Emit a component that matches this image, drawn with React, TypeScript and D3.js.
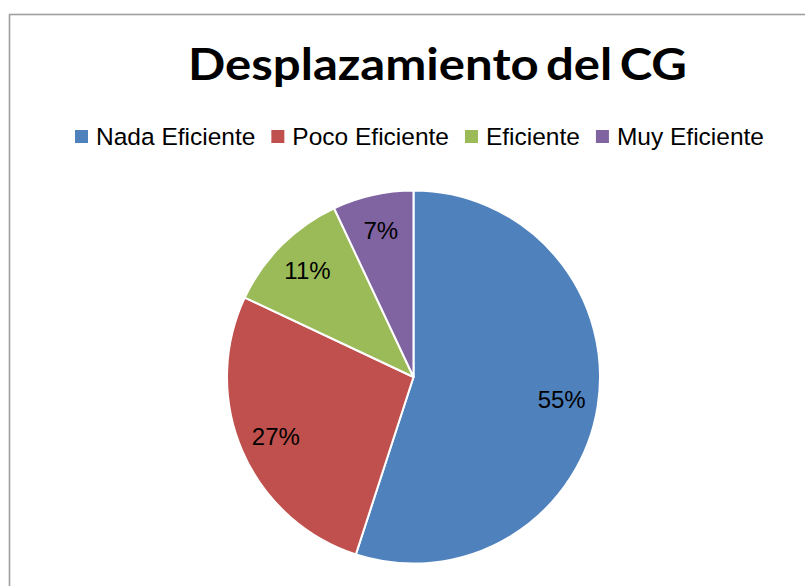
import React from "react";
import * as d3 from "d3";

const categories = ["Nada Eficiente", "Poco Eficiente", "Eficiente", "Muy Eficiente"];
const values = [55, 27, 11, 7];
const colors = ["#4F81BD", "#C0504D", "#9BBB59", "#8064A2"];
const title = "Desplazamiento del CG";

const W = 805;
const H = 586;

function measure(text: string, font: string): number {
  const c = document.createElement("canvas");
  const ctx = c.getContext("2d")!;
  ctx.font = font;
  return ctx.measureText(text).width;
}

export default function App() {
  const cx = 413.5;
  const cy = 377;
  const R = 186.5;
  const pie = d3.pie<number>().sort(null).value((d) => d).startAngle(0).endAngle(2 * Math.PI);
  const arcs = pie(values);
  const arc = d3.arc<d3.PieArcDatum<number>>().innerRadius(0).outerRadius(R);
  const labelArc = d3.arc<d3.PieArcDatum<number>>().innerRadius(150).outerRadius(150);
  const total = d3.sum(values);

  const legendFontSize = 24.5;
  const legendFont = `${legendFontSize}px "Liberation Sans", Arial, sans-serif`;
  const sq = 13;
  const sqGap = 8;
  const itemGap = 16;
  const widths = categories.map((c) => measure(c, legendFont));
  const totalW = d3.sum(widths) + categories.length * (sq + sqGap) + (categories.length - 1) * itemGap;
  let x0 = 419.5 - totalW / 2;
  const legendItems = categories.map((c, i) => {
    const item = { x: x0, label: c, color: colors[i] };
    x0 += sq + sqGap + widths[i] + itemGap;
    return item;
  });

  return (
    <svg
      width={W}
      height={H}
      style={{ position: "absolute", left: 0, top: 0, background: "#fff" }}
      xmlns="http://www.w3.org/2000/svg"
    >
      <rect x={9.5} y={14.5} width={W + 20} height={H + 20} fill="#fff" stroke="#A0A0A0" strokeWidth={1.6} />
      <text
        x={437.5}
        y={80}
        textAnchor="middle"
        fontFamily='Lato, "Open Sans", sans-serif'
        fontWeight="bold"
        fontSize={43}
        wordSpacing={-4}
        textLength={499}
        lengthAdjust="spacingAndGlyphs"
        fill="#000"
      >
        {title}
      </text>
      <g>
        {legendItems.map((it, i) => (
          <g key={i}>
            <rect x={it.x} y={130} width={sq} height={sq} fill={it.color} />
            <text
              x={it.x + sq + sqGap}
              y={145}
              fontFamily='"Liberation Sans", Arial, sans-serif'
              fontSize={legendFontSize}
              fill="#000"
            >
              {it.label}
            </text>
          </g>
        ))}
      </g>
      <g transform={`translate(${cx},${cy})`}>
        {arcs.map((a, i) => (
          <path key={i} d={arc(a) || ""} fill={colors[i]} stroke="#fff" strokeWidth={2} strokeLinejoin="round" />
        ))}
        {arcs.map((a, i) => {
          const [lx, ly] = labelArc.centroid(a);
          return (
            <text
              key={"l" + i}
              x={lx}
              y={ly + 8}
              textAnchor="middle"
              fontFamily='"Liberation Sans", Arial, sans-serif'
              fontSize={24}
              fill="#000"
            >
              {`${Math.round((values[i] / total) * 100)}%`}
            </text>
          );
        })}
      </g>
    </svg>
  );
}
